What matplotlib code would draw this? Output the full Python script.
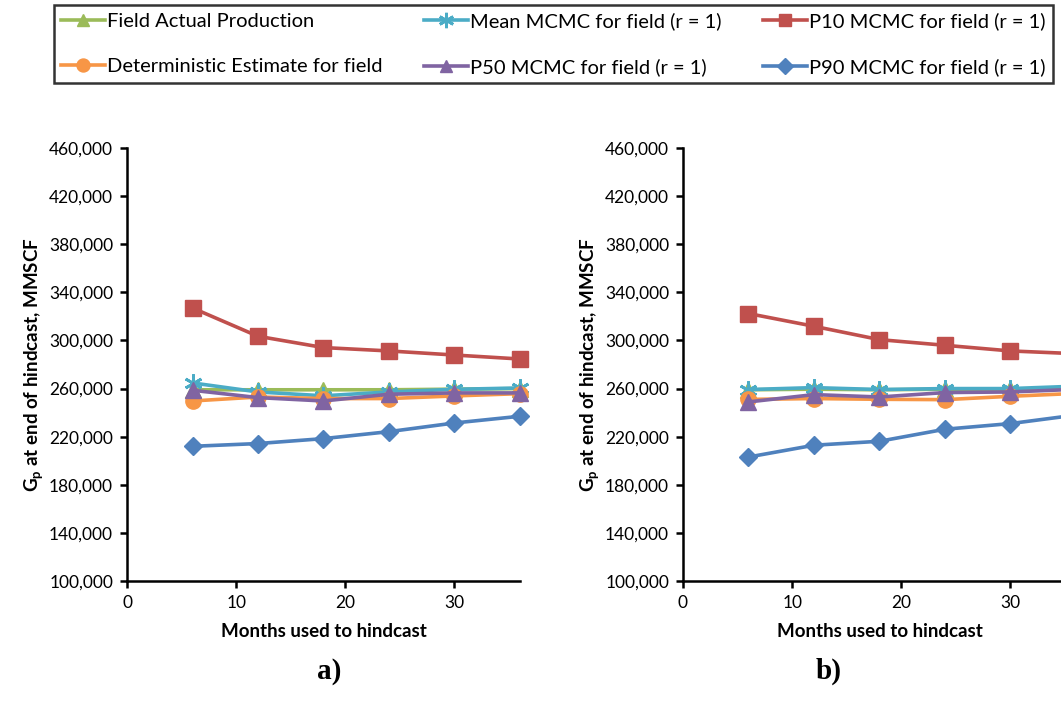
import matplotlib
matplotlib.use('Agg')
import matplotlib.pyplot as plt
from matplotlib.ticker import FuncFormatter

plt.rcParams['font.family'] = ['Lato', 'DejaVu Sans']
plt.rcParams['mathtext.fontset'] = 'custom'
plt.rcParams['mathtext.rm'] = 'Lato'
plt.rcParams['mathtext.bf'] = 'Lato:bold'

# months used to hindcast
months = [6, 12, 18, 24, 30, 36]

# panel a)
field_a = [259000, 259000, 259000, 259000, 259500, 260000]
mean_a = [264700, 257200, 254000, 257200, 259400, 260500]
p10_a = [327000, 303500, 294100, 291300, 287900, 284600]
det_a = [249700, 253000, 251700, 251700, 253900, 255800]
p50_a = [258600, 252500, 249700, 255300, 256400, 256400]
p90_a = [212000, 214300, 218400, 224200, 231400, 237000]

# panel b)
field_b = [259000, 259500, 259000, 259500, 259500, 260500]
mean_b = [259200, 260800, 259200, 260000, 260000, 262000]
p10_b = [322400, 311800, 300700, 296000, 291300, 289000]
det_b = [251000, 251700, 251100, 250800, 253600, 256000]
p50_b = [248900, 255000, 253000, 256700, 257200, 259400]
p90_b = [203100, 212900, 216200, 226200, 230900, 238000]

labels = ['Field Actual Production', 'Mean MCMC for field (r = 1)',
          'P10 MCMC for field (r = 1)', 'Deterministic Estimate for field',
          'P50 MCMC for field (r = 1)', 'P90 MCMC for field (r = 1)']
colors = ['#9BBB59', '#4BACC6', '#C0504D', '#F79646', '#8064A2', '#4F81BD']
markers = ['^', (6, 2, 0), 's', 'o', '^', 'D']
msizes = [11, 13, 11, 11, 11, 9]

yticks = [100000, 140000, 180000, 220000, 260000, 300000, 340000, 380000, 420000, 460000]
xticks = [0, 10, 20, 30]

fig = plt.figure(figsize=(10.61, 7.25), dpi=100)
ax_a = fig.add_axes([0.1197, 0.1986, 0.3704, 0.5972])
ax_b = fig.add_axes([0.6437, 0.1986, 0.3704, 0.5972])

def draw(ax, series, tag, tag_x):
    lines = []
    for vals, lab, c, m, ms in zip(series, labels, colors, markers, msizes):
        mew = 2 if m == (6, 2, 0) else 1
        ln, = ax.plot(months, vals, color=c, lw=2.6, marker=m, ms=ms,
                      mec=c, mfc=c, mew=mew, label=lab, clip_on=False)
        lines.append(ln)
    ax.set_xlim(0, 36)
    ax.set_ylim(100000, 460000)
    ax.set_xticks(xticks)
    ax.set_yticks(yticks)
    ax.yaxis.set_major_formatter(FuncFormatter(lambda v, p: f'{int(v):,}'))
    for s in ['top', 'right']:
        ax.spines[s].set_visible(False)
    for s in ['left', 'bottom']:
        ax.spines[s].set_linewidth(1.8)
    ax.tick_params(direction='out', length=5, width=1.8, labelsize=12.5, pad=5)
    ax.set_xlabel('Months used to hindcast', fontsize=13.5, fontweight='bold', labelpad=9)
    ax.set_ylabel(r'$\mathbf{G}_\mathbf{p}$ at end of hindcast, MMSCF',
                  fontsize=13.5, fontweight='bold', labelpad=2)
    fig.text(tag_x, 0.064, tag, family='Liberation Serif', fontweight='bold',
             fontsize=21, ha='center')
    return lines

lines = draw(ax_a, [field_a, mean_a, p10_a, det_a, p50_a, p90_a], 'a)', 0.31)
draw(ax_b, [field_b, mean_b, p10_b, det_b, p50_b, p90_b], 'b)', 0.781)

# legend laid out row by row like the original
order = [0, 3, 1, 4, 2, 5]
leg = fig.legend([lines[i] for i in order], [labels[i] for i in order],
                 loc='upper left', bbox_to_anchor=(0.051, 0.887, 0.941, 0.106),
                 mode='expand', ncol=3, fontsize=14.5, frameon=True, fancybox=False,
                 handlelength=2.2, handletextpad=0.1, labelspacing=1.4,
                 borderpad=0.35, borderaxespad=0, markerscale=0.85)
leg.get_frame().set_edgecolor('black')
leg.get_frame().set_linewidth(1.8)

fig.savefig('out.png', dpi=100)
